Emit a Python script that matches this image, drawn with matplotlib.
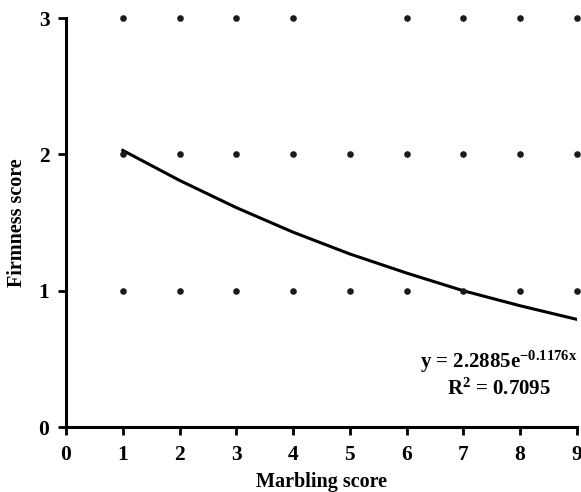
import matplotlib.pyplot as plt

# observed scores (marbling, firmness)
marbling = [1, 2, 3, 4, 6, 7, 8, 9,
            1, 2, 3, 4, 5, 6, 7, 8, 9,
            1, 2, 3, 4, 5, 6, 7, 8, 9]
firmness = [3, 3, 3, 3, 3, 3, 3, 3,
            2, 2, 2, 2, 2, 2, 2, 2, 2,
            1, 1, 1, 1, 1, 1, 1, 1, 1]

# exponential trendline
trend_x = [1, 2, 3, 4, 5, 6, 7, 8, 9]
trend_y = [2.03, 1.81, 1.61, 1.43, 1.27, 1.13, 1.00, 0.89, 0.79]

x_ticks = [0, 1, 2, 3, 4, 5, 6, 7, 8, 9]
y_ticks = [0, 1, 2, 3]

plt.rcParams['font.family'] = ['Liberation Serif', 'DejaVu Serif']
plt.rcParams['font.weight'] = 'bold'
plt.rcParams['mathtext.fontset'] = 'custom'
plt.rcParams['mathtext.rm'] = 'Liberation Serif:bold'
plt.rcParams['mathtext.bf'] = 'Liberation Serif:bold'
plt.rcParams['mathtext.it'] = 'Liberation Serif:bold'

fig = plt.figure(figsize=(5.81, 4.92), dpi=100)
ax = fig.add_axes([0.1136, 0.132, 0.8794, 0.831])

ax.scatter(marbling, firmness, s=14, color='#1a1a1a', zorder=3, clip_on=False)
ax.plot(trend_x, trend_y, color='black', lw=2.2, zorder=2)

ax.set_xlim(0, 9)
ax.set_ylim(0, 3)
ax.set_xticks(x_ticks)
ax.set_yticks(y_ticks)
for s in ['top', 'right']:
    ax.spines[s].set_visible(False)
for s in ['left', 'bottom']:
    ax.spines[s].set_linewidth(2.2)
ax.tick_params(direction='out', length=6, width=2, labelsize=15.5)
ax.tick_params(axis='x', pad=7)
ax.tick_params(axis='y', pad=6)
for lab in ax.get_xticklabels() + ax.get_yticklabels():
    lab.set_fontweight('bold')

ax.set_xlabel('Marbling score', fontsize=14.5, fontweight='bold', labelpad=5)
ax.set_ylabel('Firmness score', fontsize=14.5, fontweight='bold', labelpad=8)

ax.text(9.0, 0.48, r'y = 2.2885e$^{\mathrm{-0.1176x}}$', ha='right', va='center',
        fontsize=15, fontweight='bold')
ax.text(8.55, 0.28, r'R$^{\mathrm{2}}$ = 0.7095', ha='right', va='center',
        fontsize=15, fontweight='bold')

plt.savefig('out.png', dpi=100)
